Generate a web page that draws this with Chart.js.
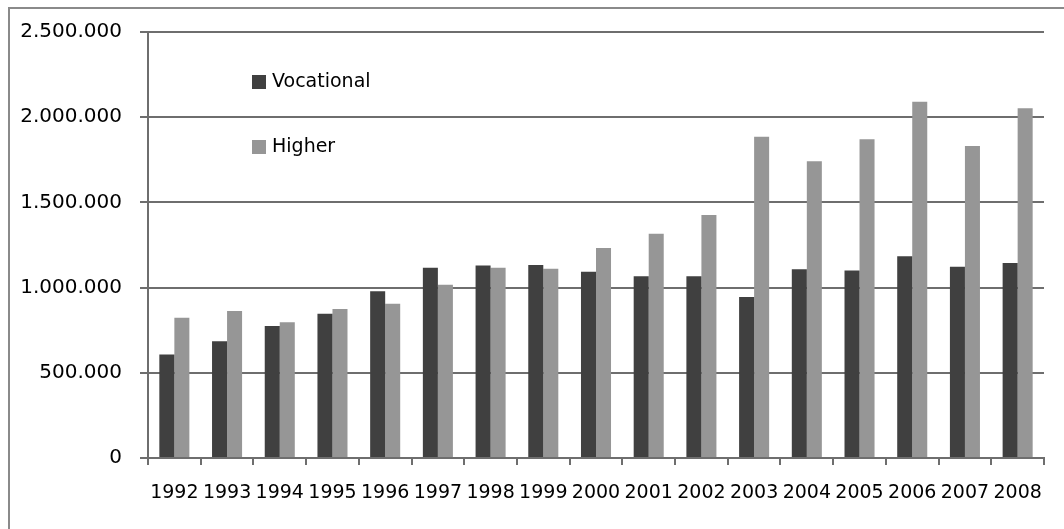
<!DOCTYPE html>
<html>
<head>
<meta charset="utf-8">
<script src="https://cdn.jsdelivr.net/npm/chart.js@4/dist/chart.umd.min.js"></script>
<style>
  html, body { margin: 0; padding: 0; background: #fff; }
  #wrap { width: 1064px; height: 529px; position: relative; }
</style>
</head>
<body>
<div id="wrap"><canvas id="myChart" width="1064" height="529"></canvas></div>
<script>
var years = ['1992', '1993', '1994', '1995', '1996', '1997', '1998', '1999', '2000',
             '2001', '2002', '2003', '2004', '2005', '2006', '2007', '2008'];
var vocational = [608000, 685000, 775000, 847000, 978000, 1117000, 1129000, 1133000, 1093000,
                  1066000, 1066000, 945000, 1107000, 1101000, 1184000, 1123000, 1144000];
var higher = [823000, 863000, 796000, 874000, 905000, 1017000, 1117000, 1111000, 1232000,
              1316000, 1426000, 1886000, 1741000, 1870000, 2091000, 1831000, 2052000];
var yTicks = [0, 500000, 1000000, 1500000, 2000000, 2500000];

var gridGray = '#6e6e6e';

function dotted(v) {
    return String(v).replace(/\B(?=(\d{3})+(?!\d))/g, '.');
}

// outer frame + legend drawn inside the plot, like the spreadsheet chart
var frameAndLegend = {
    id: 'frameAndLegend',
    beforeDraw: function (chart) {
        var c = chart.ctx;
        c.save();
        c.strokeStyle = '#8a8a8a';
        c.lineWidth = 2;
        c.strokeRect(9, 8, 1200, 700);
        c.restore();
    },
    afterDraw: function (chart) {
        var c = chart.ctx;
        var x = chart.chartArea.left + 104;
        var y = 75;
        c.save();
        c.font = '19px "DejaVu Sans"';
        c.textBaseline = 'middle';
        chart.data.datasets.forEach(function (ds, i) {
            c.fillStyle = ds.backgroundColor;
            c.fillRect(x, y + i * 65, 14, 14);
            c.fillStyle = '#000';
            c.fillText(ds.label, x + 20, y + i * 65 + 7);
        });
        c.restore();
    }
};

var ctx = document.getElementById('myChart').getContext('2d');
var myChart = new Chart(ctx, {
    type: 'bar',
    data: {
        labels: years,
        datasets: [{
            label: 'Vocational',
            data: vocational,
            backgroundColor: '#404040'
        }, {
            label: 'Higher',
            data: higher,
            backgroundColor: '#969696'
        }]
    },
    options: {
        responsive: false,
        animation: false,
        layout: { padding: { top: 32, right: 20, bottom: 0, left: 0 } },
        categoryPercentage: 0.57,
        barPercentage: 1.0,
        plugins: {
            legend: { display: false },
            tooltip: { enabled: false }
        },
        scales: {
            x: {
                afterFit: function (scale) { scale.height = 71; },
                grid: {
                    offset: true,
                    drawOnChartArea: false,
                    color: gridGray,
                    lineWidth: 2,
                    tickLength: 7
                },
                border: { display: true, color: gridGray, width: 2 },
                ticks: {
                    autoSkip: false,
                    maxRotation: 0,
                    minRotation: 0,
                    padding: 17,
                    color: '#000',
                    font: { family: '"DejaVu Sans"', size: 19 }
                }
            },
            y: {
                min: 0,
                max: 2500000,
                afterFit: function (scale) { scale.width = 148; },
                afterBuildTicks: function (scale) {
                    scale.ticks = yTicks.map(function (v) { return { value: v }; });
                },
                grid: {
                    color: gridGray,
                    lineWidth: 2,
                    tickLength: 8
                },
                border: { display: true, color: gridGray, width: 2 },
                ticks: {
                    padding: 18,
                    color: '#000',
                    font: { family: '"DejaVu Sans"', size: 20 },
                    callback: function (v) { return dotted(v); }
                }
            }
        }
    },
    plugins: [frameAndLegend]
});
</script>
</body>
</html>
